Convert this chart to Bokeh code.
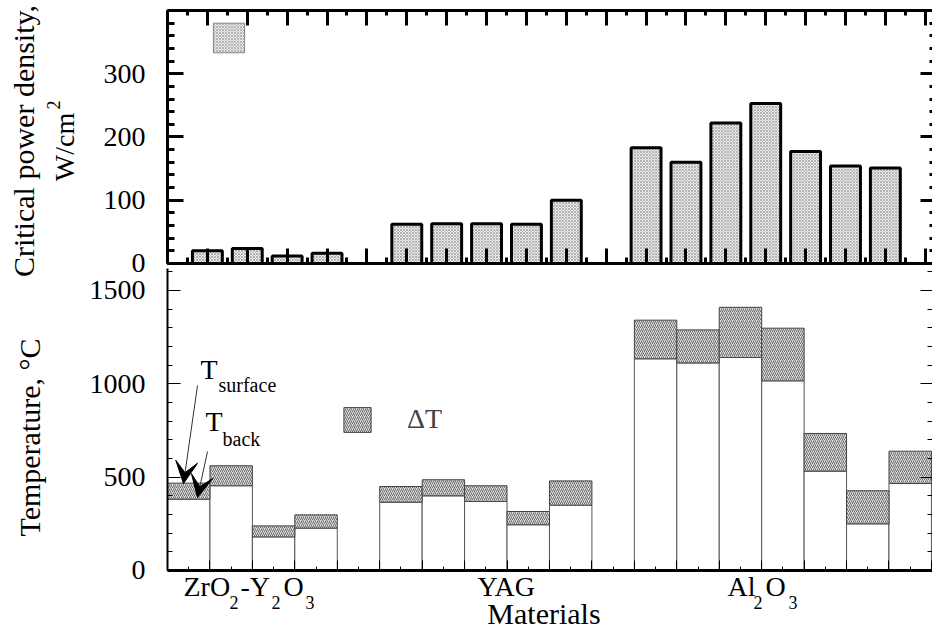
import numpy as np
from bokeh.plotting import figure
from bokeh.models import (LinearAxis, FixedTicker, Label, Legend, LegendItem,
                          Arrow, VeeHead, ColumnDataSource, Range1d)
from bokeh.embed import file_html
from bokeh.resources import INLINE

# ---------------- data ----------------
groups = ["ZrO2-Y2O3", "YAG", "Al2O3"]
group_sizes = [4, 5, 7]
power_density = [20, 23.5, 12, 16, 62, 63, 63, 62, 100, 183, 160, 222, 253, 177, 154, 151]
t_back = [382, 454, 180, 227, 366, 400, 370, 245, 350, 1134, 1112, 1141, 1016, 532, 250, 466]
t_surface = [468, 561, 239, 298, 450, 486, 454, 316, 480, 1341, 1289, 1410, 1298, 734, 427, 639]
top_yticks = [0, 100, 200, 300]
bottom_yticks = [0, 500, 1000, 1500]

FONT = "Liberation Serif"

# slot index of each sample: groups separated by one empty slot
slots = []
start = 0
for n in group_sizes:
    slots += list(range(start, start + n))
    start += n + 1
n_slots = start - 1

top_src = ColumnDataSource(dict(x=[s + 1 for s in slots], top=power_density))
bot_src = ColumnDataSource(dict(x=[s + 0.5 for s in slots], back=t_back, surf=t_surface))

# ------------- one figure, frame = whole canvas, two panels via ranges -------------
BOT_TOP = 1617.8       # top of the lower panel (its own units)
BOT_X_END = 18.025     # right edge of the lower panel
TOP_X_END = 19.182     # right edge of the upper panel
TOP_Y_END = 400

p = figure(width=932, height=634, x_range=(-3.935, BOT_X_END), y_range=(-342.9, 3053.5),
           output_backend="svg", toolbar_location=None,
           x_axis_location=None, y_axis_location=None,
           min_border_left=0, min_border_right=0, min_border_top=0,
           min_border_bottom=0)
p.extra_x_ranges = {"top": Range1d(-4.1876, TOP_X_END)}
p.extra_y_ranges = {"top": Range1d(-586.6, 415.8)}
p.outline_line_color = None
p.grid.visible = False
p.background_fill_color = "white"
p.border_fill_color = "white"


def tick_axis(side, loc, long_ticks, short_ticks, long_len, short_len, tick_w,
              line_w, line=True, bounds=None, top=False):
    for ticks, ln, draw_line in [(long_ticks, long_len, line), (short_ticks, short_len, False)]:
        ax = LinearAxis(ticker=FixedTicker(ticks=[], minor_ticks=ticks), fixed_location=loc)
        if top:
            ax.x_range_name = "top"
            ax.y_range_name = "top"
        ax.major_tick_in = 0
        ax.major_tick_out = 0
        ax.minor_tick_in = ln
        ax.minor_tick_out = 0
        ax.minor_tick_line_width = tick_w
        ax.minor_tick_line_color = "black"
        ax.axis_line_width = line_w
        ax.axis_line_color = "black" if draw_line else None
        if bounds is not None:
            ax.bounds = bounds
        p.add_layout(ax, side)


def label_axis(ticks, minor, maj_len, min_len, tick_w, line_w, bounds, top=False):
    ax = LinearAxis(ticker=FixedTicker(ticks=ticks, minor_ticks=minor),
                    fixed_location=0, bounds=bounds)
    if top:
        ax.x_range_name = "top"
        ax.y_range_name = "top"
    ax.major_tick_in = maj_len
    ax.major_tick_out = 0
    ax.minor_tick_in = min_len
    ax.minor_tick_out = 0
    ax.major_tick_line_width = tick_w
    ax.minor_tick_line_width = tick_w
    ax.major_tick_line_color = "black"
    ax.minor_tick_line_color = "black"
    ax.axis_line_width = line_w
    ax.axis_line_color = "black"
    ax.major_label_text_font = FONT
    ax.major_label_text_font_size = "28px"
    ax.major_label_text_color = "black"
    ax.major_label_standoff = 22
    p.add_layout(ax, "left")


# ---- upper panel: critical power density ----
stipple = dict(fill_color="#ececec", hatch_pattern="x", hatch_color="#9a9a9a",
               hatch_scale=3, hatch_weight=0.7)
sw1 = p.vbar(x="x", top="top", width=0.75, source=top_src, line_color="#888888",
             line_width=1, x_range_name="top", y_range_name="top", **stipple)
p.vbar(x="x", top="top", width=0.75, source=top_src, line_color="black",
       line_width=3, x_range_name="top", y_range_name="top", **stipple)

xt = list(range(0, 20))
xm = [i + 0.5 for i in range(0, 20)]
ym1 = list(range(0, TOP_Y_END + 1, 20))

label_axis(top_yticks, ym1, 16, 7, 3, 3, (0, TOP_Y_END), top=True)
tick_axis("right", TOP_X_END, top_yticks + [TOP_Y_END], ym1, 12, 3, 3, 3, line=False,
          bounds=(0, TOP_Y_END), top=True)
tick_axis("above", TOP_Y_END, xt, xm, 15, 5, 3, 3, bounds=(0, TOP_X_END), top=True)
tick_axis("below", 0, xt, xm, 15, 6, 3, 3, bounds=(0, TOP_X_END), top=True)

leg1 = Legend(items=[LegendItem(label=" ", renderers=[sw1])], location=(209, 578),
              glyph_width=39, glyph_height=37, label_standoff=0,
              label_text_font=FONT, label_text_font_size="20px",
              label_height=37, padding=0, margin=0, spacing=0,
              border_line_color=None, background_fill_alpha=0)
p.add_layout(leg1)

# ---- lower panel: temperatures ----
p.vbar(x="x", bottom=0, top="back", width=1, source=bot_src,
       fill_color="white", line_color="#555555", line_width=1)
dT = p.vbar(x="x", bottom="back", top="surf", width=1, source=bot_src,
            fill_color="#dcdcdc", hatch_pattern="/", hatch_color="#505050",
            hatch_scale=4, hatch_weight=0.8, line_color="#444444", line_width=1)

ym2 = list(range(0, 1601, 100))
label_axis(bottom_yticks, ym2, 13, 5, 1, 2, (0, BOT_TOP))
xt2 = list(range(0, n_slots + 1))
xm2 = [i + 0.5 for i in range(0, n_slots + 1)]
tick_axis("right", BOT_X_END, bottom_yticks, ym2, 12, 5, 1, 2, line=False, bounds=(0, BOT_TOP))
tick_axis("below", 0, xt2, xm2, 10, 4, 1, 3, bounds=(0, BOT_X_END))

leg2 = Legend(items=[LegendItem(label="ΔT", renderers=[dT])], location=(340, 199),
              glyph_width=34, glyph_height=31, label_standoff=33,
              label_text_font=FONT, label_text_font_size="28px",
              label_height=31, padding=0, margin=0, spacing=0,
              border_line_color=None, background_fill_alpha=0)
p.add_layout(leg2)


def lab(x, y, t, size=28, align="left", angle=0.0):
    p.add_layout(Label(x=x, y=y, text=t, text_font=FONT, text_font_size=f"{size}px",
                       text_align=align, text_baseline="middle", angle=angle,
                       text_color="black"))


# axis titles (rotated)
lab(-3.39, 2300.9, "Critical power density,", 30, "center", np.pi / 2)
lab(-2.43, 2268.8, "W/cm", 28, "center", np.pi / 2)
lab(-2.68, 2493.7, "2", 18, "center", np.pi / 2)
lab(-3.25, 712.5, "Temperature, °C", 30, "center", np.pi / 2)

# group labels with subscripts, and x title
yb, ys = -84.3, -172.0
lab(0.377, yb, "ZrO"); lab(1.461, ys, "2", 18)
lab(1.72, yb, "-Y"); lab(2.45, ys, "2", 18)
lab(2.733, yb, "O"); lab(3.252, ys, "3", 18)
lab(7.304, yb, "YAG")
lab(13.195, yb, "Al"); lab(13.808, ys, "2", 18)
lab(14.09, yb, "O"); lab(14.63, ys, "3", 18)
lab(8.87, -230.0, "Materials", 30, "center")

# T_surface / T_back annotations
lab(0.778, 1077.8, "T"); lab(1.202, 994.3, "surface", 20)
lab(0.895, 799.3, "T"); lab(1.296, 705.0, "back", 20)
p.add_layout(Arrow(end=VeeHead(size=22, fill_color="black", line_color="black"),
                   x_start=0.707, y_start=991, x_end=0.377, y_end=466,
                   line_color="#333333", line_width=1))
p.add_layout(Arrow(end=VeeHead(size=22, fill_color="black", line_color="black"),
                   x_start=0.943, y_start=637.5, x_end=0.707, y_end=391,
                   line_color="#333333", line_width=1))

open("out.html", "w").write(file_html(p, INLINE))
